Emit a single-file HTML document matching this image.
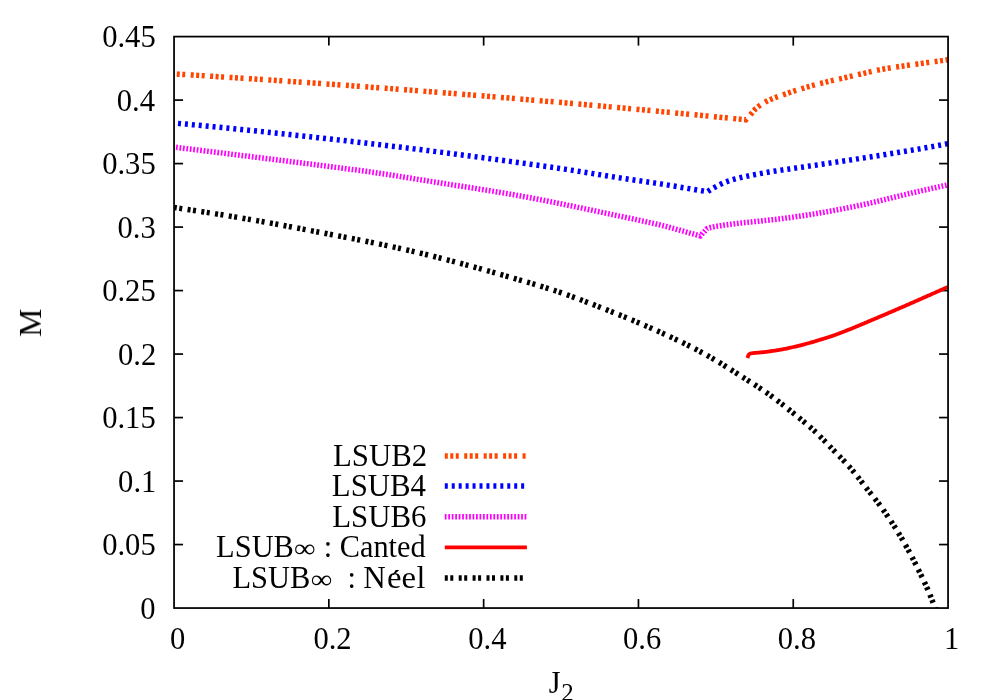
<!DOCTYPE html><html><head><meta charset="utf-8"><title>plot</title><style>html,body{margin:0;padding:0;background:#fff}body{width:1000px;height:700px;position:relative;overflow:hidden}.tx text,.tx tspan{font-family:"Liberation Serif",serif}</style></head><body><svg width="1000" height="700" viewBox="0 0 1000 700" style="position:absolute;left:0;top:0">
<rect width="1000" height="700" fill="#fff"/>
<defs><clipPath id="cp"><rect x="174.05" y="36.6" width="774.0" height="571.4499999999999"/></clipPath></defs>
<g stroke="#000" stroke-width="1.7" fill="none" stroke-linecap="butt">
<path d="M328.85,608.05 V599.05"/><path d="M328.85,36.6 V45.6"/>
<path d="M483.65,608.05 V599.05"/><path d="M483.65,36.6 V45.6"/>
<path d="M638.45,608.05 V599.05"/><path d="M638.45,36.6 V45.6"/>
<path d="M793.25,608.05 V599.05"/><path d="M793.25,36.6 V45.6"/>
<path d="M174.05,544.56 H183.05"/><path d="M948.05,544.56 H939.05"/>
<path d="M174.05,481.06 H183.05"/><path d="M948.05,481.06 H939.05"/>
<path d="M174.05,417.57 H183.05"/><path d="M948.05,417.57 H939.05"/>
<path d="M174.05,354.07 H183.05"/><path d="M948.05,354.07 H939.05"/>
<path d="M174.05,290.58 H183.05"/><path d="M948.05,290.58 H939.05"/>
<path d="M174.05,227.08 H183.05"/><path d="M948.05,227.08 H939.05"/>
<path d="M174.05,163.59 H183.05"/><path d="M948.05,163.59 H939.05"/>
<path d="M174.05,100.09 H183.05"/><path d="M948.05,100.09 H939.05"/>
</g>
<g fill="none" clip-path="url(#cp)" stroke-linejoin="miter">
<path d="M174.00,73.90 L178.00,74.14 L182.00,74.39 L186.00,74.63 L190.00,74.88 L194.00,75.13 L198.00,75.38 L202.00,75.63 L206.00,75.88 L210.00,76.13 L214.00,76.38 L218.00,76.64 L222.00,76.89 L226.00,77.15 L230.00,77.41 L234.00,77.67 L238.00,77.92 L242.00,78.19 L246.00,78.45 L250.00,78.71 L254.00,78.97 L258.00,79.24 L262.00,79.51 L266.00,79.77 L270.00,80.04 L274.00,80.31 L278.00,80.58 L282.00,80.85 L286.00,81.13 L290.00,81.40 L294.00,81.68 L298.00,81.95 L302.00,82.23 L306.00,82.51 L310.00,82.79 L314.00,83.07 L318.00,83.35 L322.00,83.63 L326.00,83.92 L330.00,84.20 L334.00,84.49 L338.00,84.77 L342.00,85.06 L346.00,85.35 L350.00,85.64 L354.00,85.93 L358.00,86.23 L362.00,86.52 L366.00,86.82 L370.00,87.11 L374.00,87.41 L378.00,87.71 L382.00,88.01 L386.00,88.31 L390.00,88.61 L394.00,88.91 L398.00,89.21 L402.00,89.52 L406.00,89.82 L410.00,90.13 L414.00,90.44 L418.00,90.75 L422.00,91.06 L426.00,91.37 L430.00,91.68 L434.00,91.99 L438.00,92.31 L442.00,92.62 L446.00,92.94 L450.00,93.26 L454.00,93.58 L458.00,93.90 L462.00,94.22 L466.00,94.54 L470.00,94.86 L474.00,95.19 L478.00,95.51 L482.00,95.84 L486.00,96.17 L490.00,96.50 L494.00,96.83 L498.00,97.16 L502.00,97.49 L506.00,97.82 L510.00,98.16 L514.00,98.49 L518.00,98.83 L522.00,99.17 L526.00,99.50 L530.00,99.84 L534.00,100.18 L538.00,100.53 L542.00,100.87 L546.00,101.21 L550.00,101.56 L554.00,101.90 L558.00,102.25 L562.00,102.60 L566.00,102.95 L570.00,103.30 L574.00,103.65 L578.00,104.00 L582.00,104.36 L586.00,104.71 L590.00,105.07 L594.00,105.43 L598.00,105.79 L602.00,106.14 L606.00,106.50 L610.00,106.87 L614.00,107.23 L618.00,107.59 L622.00,107.96 L626.00,108.32 L630.00,108.69 L634.00,109.06 L638.00,109.43 L642.00,109.80 L646.00,110.17 L650.00,110.54 L654.00,110.92 L658.00,111.29 L662.00,111.67 L666.00,112.04 L670.00,112.42 L674.00,112.80 L678.00,113.18 L682.00,113.56 L686.00,113.94 L690.00,114.33 L694.00,114.71 L698.00,115.10 L702.00,115.48 L706.00,115.87 L710.00,116.26 L714.00,116.65 L718.00,117.04 L722.00,117.43 L726.00,117.83 L730.00,118.22 L734.00,118.62 L738.00,119.01 L742.00,119.41 L745.80,119.80 L747.80,117.59 L749.80,115.36 L751.80,113.11 L753.80,110.71 L755.80,108.58 L757.80,106.93 L759.80,105.44 L761.80,104.09 L763.80,102.86 L765.80,101.74 L767.80,100.70 L769.80,99.76 L771.80,98.92 L773.80,98.13 L775.80,97.37 L777.80,96.64 L779.80,95.94 L781.80,95.26 L783.80,94.57 L785.80,93.87 L787.80,93.16 L789.80,92.45 L791.80,91.76 L793.80,91.09 L795.80,90.46 L797.80,89.86 L799.80,89.27 L801.80,88.68 L803.80,88.08 L805.80,87.48 L807.80,86.87 L809.80,86.28 L811.80,85.69 L813.80,85.13 L815.80,84.59 L817.80,84.07 L819.80,83.55 L821.80,83.05 L823.80,82.55 L825.80,82.07 L827.80,81.59 L829.80,81.11 L831.80,80.65 L833.80,80.19 L835.80,79.74 L837.80,79.30 L839.80,78.85 L841.80,78.39 L843.80,77.92 L845.80,77.46 L847.80,76.99 L849.80,76.53 L851.80,76.07 L853.80,75.62 L855.80,75.17 L857.80,74.72 L859.80,74.27 L861.80,73.81 L863.80,73.34 L865.80,72.87 L867.80,72.39 L869.80,71.92 L871.80,71.45 L873.80,71.00 L875.80,70.55 L877.80,70.13 L879.80,69.72 L881.80,69.34 L883.80,68.98 L885.80,68.63 L887.80,68.30 L889.80,67.97 L891.80,67.66 L893.80,67.36 L895.80,67.06 L897.80,66.77 L899.80,66.48 L901.80,66.19 L903.80,65.91 L905.80,65.62 L907.80,65.33 L909.80,65.04 L911.80,64.75 L913.80,64.47 L915.80,64.19 L917.80,63.91 L919.80,63.64 L921.80,63.36 L923.80,63.09 L925.80,62.82 L927.80,62.54 L929.80,62.27 L931.80,62.00 L933.80,61.73 L935.80,61.45 L937.80,61.18 L939.80,60.91 L941.80,60.64 L943.80,60.37 L945.80,60.10 L947.80,59.83 L948.00,59.80" stroke="#ff4500" stroke-width="5.5" stroke-dasharray="3.0 2.48 3.0 2.48 3.0 5.48" stroke-dashoffset="2.7"/>
<path d="M174.00,123.00 L178.00,123.37 L182.00,123.74 L186.00,124.11 L190.00,124.49 L194.00,124.87 L198.00,125.25 L202.00,125.63 L206.00,126.01 L210.00,126.40 L214.00,126.79 L218.00,127.18 L222.00,127.57 L226.00,127.97 L230.00,128.37 L234.00,128.77 L238.00,129.17 L242.00,129.58 L246.00,129.98 L250.00,130.39 L254.00,130.80 L258.00,131.21 L262.00,131.63 L266.00,132.05 L270.00,132.46 L274.00,132.89 L278.00,133.31 L282.00,133.73 L286.00,134.16 L290.00,134.59 L294.00,135.02 L298.00,135.45 L302.00,135.89 L306.00,136.32 L310.00,136.76 L314.00,137.20 L318.00,137.65 L322.00,138.09 L326.00,138.54 L330.00,138.98 L334.00,139.43 L338.00,139.89 L342.00,140.34 L346.00,140.79 L350.00,141.25 L354.00,141.71 L358.00,142.17 L362.00,142.63 L366.00,143.10 L370.00,143.56 L374.00,144.03 L378.00,144.50 L382.00,144.98 L386.00,145.45 L390.00,145.93 L394.00,146.41 L398.00,146.90 L402.00,147.38 L406.00,147.87 L410.00,148.36 L414.00,148.86 L418.00,149.35 L422.00,149.85 L426.00,150.35 L430.00,150.86 L434.00,151.36 L438.00,151.87 L442.00,152.38 L446.00,152.89 L450.00,153.40 L454.00,153.92 L458.00,154.44 L462.00,154.96 L466.00,155.49 L470.00,156.01 L474.00,156.54 L478.00,157.07 L482.00,157.60 L486.00,158.14 L490.00,158.68 L494.00,159.21 L498.00,159.76 L502.00,160.30 L506.00,160.85 L510.00,161.40 L514.00,161.95 L518.00,162.50 L522.00,163.05 L526.00,163.61 L530.00,164.17 L534.00,164.73 L538.00,165.30 L542.00,165.86 L546.00,166.43 L550.00,167.00 L554.00,167.58 L558.00,168.16 L562.00,168.76 L566.00,169.37 L570.00,169.98 L574.00,170.60 L578.00,171.23 L582.00,171.86 L586.00,172.49 L590.00,173.13 L594.00,173.77 L598.00,174.40 L602.00,175.04 L606.00,175.68 L610.00,176.31 L614.00,176.94 L618.00,177.56 L622.00,178.18 L626.00,178.80 L630.00,179.40 L634.00,179.99 L638.00,180.57 L642.00,181.15 L646.00,181.72 L650.00,182.30 L654.00,182.89 L658.00,183.49 L662.00,184.11 L666.00,184.76 L670.00,185.41 L674.00,186.08 L678.00,186.75 L682.00,187.43 L686.00,188.12 L690.00,188.79 L694.00,189.47 L698.00,190.13 L702.00,190.79 L706.00,191.45 L707.50,191.70 L709.50,190.39 L711.50,189.14 L713.50,187.95 L715.50,186.84 L717.50,185.79 L719.50,184.80 L721.50,183.86 L723.50,182.95 L725.50,182.09 L727.50,181.31 L729.50,180.63 L731.50,180.02 L733.50,179.45 L735.50,178.90 L737.50,178.39 L739.50,177.89 L741.50,177.42 L743.50,176.97 L745.50,176.52 L747.50,176.09 L749.50,175.67 L751.50,175.26 L753.50,174.86 L755.50,174.46 L757.50,174.08 L759.50,173.70 L761.50,173.33 L763.50,172.97 L765.50,172.62 L767.50,172.28 L769.50,171.95 L771.50,171.63 L773.50,171.31 L775.50,171.00 L777.50,170.70 L779.50,170.39 L781.50,170.10 L783.50,169.80 L785.50,169.51 L787.50,169.22 L789.50,168.94 L791.50,168.65 L793.50,168.37 L795.50,168.09 L797.50,167.80 L799.50,167.52 L801.50,167.24 L803.50,166.95 L805.50,166.66 L807.50,166.37 L809.50,166.07 L811.50,165.78 L813.50,165.48 L815.50,165.18 L817.50,164.88 L819.50,164.59 L821.50,164.29 L823.50,163.99 L825.50,163.69 L827.50,163.40 L829.50,163.10 L831.50,162.80 L833.50,162.50 L835.50,162.20 L837.50,161.90 L839.50,161.60 L841.50,161.30 L843.50,161.00 L845.50,160.70 L847.50,160.40 L849.50,160.10 L851.50,159.80 L853.50,159.49 L855.50,159.19 L857.50,158.88 L859.50,158.58 L861.50,158.27 L863.50,157.96 L865.50,157.65 L867.50,157.35 L869.50,157.04 L871.50,156.73 L873.50,156.41 L875.50,156.10 L877.50,155.79 L879.50,155.47 L881.50,155.16 L883.50,154.84 L885.50,154.52 L887.50,154.20 L889.50,153.88 L891.50,153.56 L893.50,153.23 L895.50,152.91 L897.50,152.58 L899.50,152.26 L901.50,151.93 L903.50,151.59 L905.50,151.26 L907.50,150.92 L909.50,150.59 L911.50,150.24 L913.50,149.90 L915.50,149.56 L917.50,149.21 L919.50,148.86 L921.50,148.51 L923.50,148.16 L925.50,147.81 L927.50,147.45 L929.50,147.09 L931.50,146.73 L933.50,146.37 L935.50,146.01 L937.50,145.65 L939.50,145.28 L941.50,144.91 L943.50,144.54 L945.50,144.17 L947.50,143.79 L948.00,143.70" stroke="#0000ff" stroke-width="5.5" stroke-dasharray="3.0 3.94" stroke-dashoffset="2.92"/>
<path d="M174.00,147.10 L178.00,147.59 L182.00,148.08 L186.00,148.57 L190.00,149.06 L194.00,149.55 L198.00,150.05 L202.00,150.54 L206.00,151.03 L210.00,151.53 L214.00,152.02 L218.00,152.52 L222.00,153.01 L226.00,153.51 L230.00,154.01 L234.00,154.50 L238.00,155.00 L242.00,155.50 L246.00,156.00 L250.00,156.50 L254.00,157.00 L258.00,157.50 L262.00,158.00 L266.00,158.50 L270.00,159.00 L274.00,159.50 L278.00,160.00 L282.00,160.50 L286.00,161.01 L290.00,161.51 L294.00,162.01 L298.00,162.52 L302.00,163.02 L306.00,163.53 L310.00,164.03 L314.00,164.54 L318.00,165.05 L322.00,165.57 L326.00,166.08 L330.00,166.60 L334.00,167.12 L338.00,167.63 L342.00,168.15 L346.00,168.66 L350.00,169.19 L354.00,169.71 L358.00,170.24 L362.00,170.78 L366.00,171.34 L370.00,171.90 L374.00,172.48 L378.00,173.07 L382.00,173.66 L386.00,174.27 L390.00,174.89 L394.00,175.51 L398.00,176.14 L402.00,176.78 L406.00,177.42 L410.00,178.07 L414.00,178.71 L418.00,179.36 L422.00,180.01 L426.00,180.65 L430.00,181.30 L434.00,181.94 L438.00,182.58 L442.00,183.22 L446.00,183.85 L450.00,184.47 L454.00,185.10 L458.00,185.72 L462.00,186.34 L466.00,186.96 L470.00,187.58 L474.00,188.21 L478.00,188.84 L482.00,189.47 L486.00,190.11 L490.00,190.75 L494.00,191.40 L498.00,192.06 L502.00,192.73 L506.00,193.41 L510.00,194.10 L514.00,194.80 L518.00,195.52 L522.00,196.25 L526.00,196.99 L530.00,197.74 L534.00,198.50 L538.00,199.26 L542.00,200.04 L546.00,200.82 L550.00,201.60 L554.00,202.39 L558.00,203.20 L562.00,204.01 L566.00,204.84 L570.00,205.67 L574.00,206.50 L578.00,207.34 L582.00,208.17 L586.00,209.01 L590.00,209.85 L594.00,210.69 L598.00,211.53 L602.00,212.38 L606.00,213.23 L610.00,214.07 L614.00,214.92 L618.00,215.78 L622.00,216.62 L626.00,217.47 L630.00,218.31 L634.00,219.15 L638.00,220.00 L642.00,220.85 L646.00,221.72 L650.00,222.60 L654.00,223.49 L658.00,224.42 L662.00,225.40 L666.00,226.43 L670.00,227.51 L674.00,228.61 L678.00,229.72 L682.00,230.84 L686.00,231.96 L690.00,233.08 L694.00,234.22 L698.00,235.36 L700.20,236.00 L703.60,232.30 L706.90,228.80 L708.90,227.93 L710.90,227.35 L712.90,226.92 L714.90,226.57 L716.90,226.26 L718.90,225.96 L720.90,225.66 L722.90,225.36 L724.90,225.07 L726.90,224.79 L728.90,224.51 L730.90,224.24 L732.90,223.99 L734.90,223.74 L736.90,223.50 L738.90,223.27 L740.90,223.04 L742.90,222.82 L744.90,222.60 L746.90,222.40 L748.90,222.20 L750.90,222.01 L752.90,221.81 L754.90,221.61 L756.90,221.41 L758.90,221.20 L760.90,220.98 L762.90,220.76 L764.90,220.55 L766.90,220.32 L768.90,220.10 L770.90,219.87 L772.90,219.65 L774.90,219.42 L776.90,219.18 L778.90,218.94 L780.90,218.69 L782.90,218.43 L784.90,218.18 L786.90,217.91 L788.90,217.65 L790.90,217.38 L792.90,217.11 L794.90,216.83 L796.90,216.55 L798.90,216.27 L800.90,215.98 L802.90,215.69 L804.90,215.39 L806.90,215.08 L808.90,214.77 L810.90,214.46 L812.90,214.14 L814.90,213.81 L816.90,213.48 L818.90,213.14 L820.90,212.80 L822.90,212.46 L824.90,212.11 L826.90,211.75 L828.90,211.39 L830.90,211.03 L832.90,210.66 L834.90,210.29 L836.90,209.91 L838.90,209.53 L840.90,209.15 L842.90,208.76 L844.90,208.37 L846.90,207.97 L848.90,207.57 L850.90,207.17 L852.90,206.76 L854.90,206.36 L856.90,205.94 L858.90,205.53 L860.90,205.11 L862.90,204.68 L864.90,204.25 L866.90,203.80 L868.90,203.35 L870.90,202.89 L872.90,202.42 L874.90,201.95 L876.90,201.47 L878.90,200.99 L880.90,200.50 L882.90,200.01 L884.90,199.52 L886.90,199.02 L888.90,198.53 L890.90,198.03 L892.90,197.54 L894.90,197.04 L896.90,196.55 L898.90,196.06 L900.90,195.57 L902.90,195.08 L904.90,194.60 L906.90,194.13 L908.90,193.66 L910.90,193.19 L912.90,192.73 L914.90,192.27 L916.90,191.81 L918.90,191.35 L920.90,190.89 L922.90,190.44 L924.90,189.98 L926.90,189.53 L928.90,189.07 L930.90,188.62 L932.90,188.17 L934.90,187.72 L936.90,187.27 L938.90,186.82 L940.90,186.38 L942.90,185.93 L944.90,185.49 L946.90,185.04 L948.00,184.80" stroke="#ff00ff" stroke-width="5.5" stroke-dasharray="1.75 1.72" stroke-dashoffset="1.44"/>
<path d="M747.40,358.00 L748.40,355.17 L749.40,353.95 L750.40,353.49 L751.40,353.29 L752.40,353.17 L753.40,353.05 L754.40,352.95 L755.40,352.87 L756.40,352.79 L757.40,352.72 L758.40,352.64 L759.40,352.56 L760.40,352.46 L761.40,352.36 L762.40,352.25 L763.40,352.13 L764.40,352.02 L765.40,351.89 L766.40,351.77 L767.40,351.64 L768.40,351.51 L769.40,351.38 L770.40,351.25 L771.40,351.11 L772.40,350.97 L773.40,350.83 L774.40,350.69 L775.40,350.54 L776.40,350.39 L777.40,350.23 L778.40,350.07 L779.40,349.90 L780.40,349.73 L781.40,349.55 L782.40,349.37 L783.40,349.18 L784.40,348.98 L785.40,348.78 L786.40,348.57 L787.40,348.36 L788.40,348.15 L789.40,347.93 L790.40,347.71 L791.40,347.49 L792.40,347.26 L793.40,347.02 L794.40,346.78 L795.40,346.54 L796.40,346.30 L797.40,346.05 L798.40,345.80 L799.40,345.55 L800.40,345.30 L801.40,345.05 L802.40,344.80 L803.40,344.55 L804.40,344.29 L805.40,344.03 L806.40,343.77 L807.40,343.51 L808.40,343.24 L809.40,342.97 L810.40,342.69 L811.40,342.40 L812.40,342.11 L813.40,341.82 L814.40,341.51 L815.40,341.21 L816.40,340.91 L817.40,340.60 L818.40,340.29 L819.40,339.98 L820.40,339.68 L821.40,339.38 L822.40,339.07 L823.40,338.77 L824.40,338.47 L825.40,338.17 L826.40,337.86 L827.40,337.54 L828.40,337.23 L829.40,336.90 L830.40,336.57 L831.40,336.22 L832.40,335.88 L833.40,335.53 L834.40,335.17 L835.40,334.81 L836.40,334.44 L837.40,334.08 L838.40,333.70 L839.40,333.33 L840.40,332.95 L841.40,332.57 L842.40,332.18 L843.40,331.80 L844.40,331.41 L845.40,331.02 L846.40,330.63 L847.40,330.24 L848.40,329.84 L849.40,329.45 L850.40,329.05 L851.40,328.65 L852.40,328.25 L853.40,327.84 L854.40,327.43 L855.40,327.02 L856.40,326.61 L857.40,326.19 L858.40,325.77 L859.40,325.35 L860.40,324.93 L861.40,324.51 L862.40,324.09 L863.40,323.67 L864.40,323.24 L865.40,322.82 L866.40,322.39 L867.40,321.96 L868.40,321.54 L869.40,321.11 L870.40,320.68 L871.40,320.26 L872.40,319.83 L873.40,319.40 L874.40,318.98 L875.40,318.55 L876.40,318.13 L877.40,317.71 L878.40,317.28 L879.40,316.86 L880.40,316.43 L881.40,316.01 L882.40,315.58 L883.40,315.16 L884.40,314.73 L885.40,314.31 L886.40,313.88 L887.40,313.45 L888.40,313.02 L889.40,312.59 L890.40,312.17 L891.40,311.74 L892.40,311.31 L893.40,310.88 L894.40,310.45 L895.40,310.02 L896.40,309.59 L897.40,309.16 L898.40,308.72 L899.40,308.29 L900.40,307.86 L901.40,307.43 L902.40,306.99 L903.40,306.56 L904.40,306.13 L905.40,305.69 L906.40,305.26 L907.40,304.82 L908.40,304.39 L909.40,303.95 L910.40,303.51 L911.40,303.07 L912.40,302.64 L913.40,302.20 L914.40,301.76 L915.40,301.32 L916.40,300.88 L917.40,300.44 L918.40,300.00 L919.40,299.56 L920.40,299.12 L921.40,298.68 L922.40,298.24 L923.40,297.80 L924.40,297.36 L925.40,296.92 L926.40,296.47 L927.40,296.03 L928.40,295.59 L929.40,295.15 L930.40,294.71 L931.40,294.27 L932.40,293.82 L933.40,293.38 L934.40,292.94 L935.40,292.50 L936.40,292.05 L937.40,291.61 L938.40,291.17 L939.40,290.72 L940.40,290.28 L941.40,289.84 L942.40,289.39 L943.40,288.95 L944.40,288.50 L945.40,288.06 L946.40,287.61 L947.40,287.17 L948.00,286.90" stroke="#ff0000" stroke-width="3.8"/>
<path d="M174.00,207.50 L176.00,207.79 L178.00,208.08 L180.00,208.37 L182.00,208.66 L184.00,208.96 L186.00,209.25 L188.00,209.55 L190.00,209.85 L192.00,210.15 L194.00,210.45 L196.00,210.75 L198.00,211.06 L200.00,211.36 L202.00,211.67 L204.00,211.98 L206.00,212.29 L208.00,212.60 L210.00,212.91 L212.00,213.23 L214.00,213.54 L216.00,213.86 L218.00,214.18 L220.00,214.50 L222.00,214.82 L224.00,215.15 L226.00,215.47 L228.00,215.80 L230.00,216.13 L232.00,216.46 L234.00,216.79 L236.00,217.12 L238.00,217.45 L240.00,217.79 L242.00,218.13 L244.00,218.47 L246.00,218.81 L248.00,219.15 L250.00,219.49 L252.00,219.84 L254.00,220.18 L256.00,220.53 L258.00,220.88 L260.00,221.23 L262.00,221.58 L264.00,221.93 L266.00,222.29 L268.00,222.64 L270.00,223.00 L272.00,223.36 L274.00,223.72 L276.00,224.08 L278.00,224.45 L280.00,224.81 L282.00,225.18 L284.00,225.56 L286.00,225.93 L288.00,226.30 L290.00,226.68 L292.00,227.06 L294.00,227.43 L296.00,227.81 L298.00,228.19 L300.00,228.57 L302.00,228.96 L304.00,229.34 L306.00,229.72 L308.00,230.10 L310.00,230.49 L312.00,230.87 L314.00,231.25 L316.00,231.64 L318.00,232.02 L320.00,232.40 L322.00,232.78 L324.00,233.16 L326.00,233.54 L328.00,233.92 L330.00,234.30 L332.00,234.68 L334.00,235.06 L336.00,235.44 L338.00,235.83 L340.00,236.21 L342.00,236.59 L344.00,236.97 L346.00,237.36 L348.00,237.74 L350.00,238.13 L352.00,238.52 L354.00,238.91 L356.00,239.30 L358.00,239.70 L360.00,240.09 L362.00,240.49 L364.00,240.89 L366.00,241.29 L368.00,241.70 L370.00,242.11 L372.00,242.52 L374.00,242.93 L376.00,243.34 L378.00,243.75 L380.00,244.17 L382.00,244.58 L384.00,245.00 L386.00,245.42 L388.00,245.85 L390.00,246.27 L392.00,246.70 L394.00,247.13 L396.00,247.57 L398.00,248.00 L400.00,248.45 L402.00,248.89 L404.00,249.34 L406.00,249.79 L408.00,250.24 L410.00,250.70 L412.00,251.16 L414.00,251.63 L416.00,252.10 L418.00,252.57 L420.00,253.05 L422.00,253.53 L424.00,254.02 L426.00,254.50 L428.00,255.00 L430.00,255.49 L432.00,255.99 L434.00,256.49 L436.00,256.99 L438.00,257.50 L440.00,258.00 L442.00,258.51 L444.00,259.03 L446.00,259.54 L448.00,260.06 L450.00,260.58 L452.00,261.10 L454.00,261.62 L456.00,262.15 L458.00,262.67 L460.00,263.20 L462.00,263.73 L464.00,264.26 L466.00,264.80 L468.00,265.34 L470.00,265.88 L472.00,266.43 L474.00,266.98 L476.00,267.53 L478.00,268.08 L480.00,268.64 L482.00,269.20 L484.00,269.76 L486.00,270.32 L488.00,270.89 L490.00,271.45 L492.00,272.02 L494.00,272.59 L496.00,273.16 L498.00,273.74 L500.00,274.31 L502.00,274.89 L504.00,275.46 L506.00,276.04 L508.00,276.62 L510.00,277.20 L512.00,277.78 L514.00,278.36 L516.00,278.93 L518.00,279.51 L520.00,280.08 L522.00,280.66 L524.00,281.24 L526.00,281.82 L528.00,282.40 L530.00,282.98 L532.00,283.57 L534.00,284.16 L536.00,284.75 L538.00,285.35 L540.00,285.95 L542.00,286.56 L544.00,287.17 L546.00,287.79 L548.00,288.42 L550.00,289.05 L552.00,289.69 L554.00,290.34 L556.00,291.00 L558.00,291.67 L560.00,292.34 L562.00,293.03 L564.00,293.72 L566.00,294.43 L568.00,295.14 L570.00,295.85 L572.00,296.58 L574.00,297.31 L576.00,298.05 L578.00,298.79 L580.00,299.54 L582.00,300.29 L584.00,301.05 L586.00,301.81 L588.00,302.57 L590.00,303.34 L592.00,304.11 L594.00,304.88 L596.00,305.65 L598.00,306.43 L600.00,307.20 L602.00,307.98 L604.00,308.75 L606.00,309.54 L608.00,310.32 L610.00,311.11 L612.00,311.90 L614.00,312.69 L616.00,313.49 L618.00,314.29 L620.00,315.09 L622.00,315.90 L624.00,316.71 L626.00,317.53 L628.00,318.35 L630.00,319.17 L632.00,320.00 L634.00,320.84 L636.00,321.67 L638.00,322.52 L640.00,323.37 L642.00,324.22 L644.00,325.08 L646.00,325.95 L648.00,326.82 L650.00,327.70 L652.00,328.58 L654.00,329.47 L656.00,330.36 L658.00,331.25 L660.00,332.14 L662.00,333.04 L664.00,333.95 L666.00,334.86 L668.00,335.77 L670.00,336.69 L672.00,337.62 L674.00,338.55 L676.00,339.49 L678.00,340.44 L680.00,341.40 L682.00,342.37 L684.00,343.34 L686.00,344.32 L688.00,345.32 L690.00,346.32 L692.00,347.33 L694.00,348.36 L696.00,349.39 L698.00,350.44 L700.00,351.50 L702.00,352.58 L704.00,353.67 L706.00,354.78 L708.00,355.91 L710.00,357.05 L712.00,358.21 L714.00,359.38 L716.00,360.57 L718.00,361.77 L720.00,362.97 L722.00,364.19 L724.00,365.42 L726.00,366.65 L728.00,367.89 L730.00,369.14 L732.00,370.40 L734.00,371.65 L736.00,372.91 L738.00,374.18 L740.00,375.44 L742.00,376.70 L744.00,377.97 L746.00,379.23 L748.00,380.49 L750.00,381.76 L752.00,383.03 L754.00,384.31 L756.00,385.60 L758.00,386.90 L760.00,388.22 L762.00,389.55 L764.00,390.91 L766.00,392.28 L768.00,393.68 L770.00,395.10 L772.00,396.55 L774.00,398.03 L776.00,399.54 L778.00,401.07 L780.00,402.61 L782.00,404.17 L784.00,405.75 L786.00,407.33 L788.00,408.92 L790.00,410.52 L792.00,412.12 L794.00,413.71 L796.00,415.31 L798.00,416.92 L800.00,418.54 L802.00,420.17 L804.00,421.83 L806.00,423.51 L808.00,425.22 L810.00,426.97 L812.00,428.76 L814.00,430.59 L816.00,432.48 L818.00,434.41 L820.00,436.39 L822.00,438.40 L824.00,440.44 L826.00,442.49 L828.00,444.56 L830.00,446.63 L832.00,448.69 L834.00,450.74 L836.00,452.77 L838.00,454.81 L840.00,456.85 L842.00,458.91 L844.00,460.99 L846.00,463.11 L848.00,465.27 L850.00,467.49 L852.00,469.77 L854.00,472.14 L856.00,474.62 L858.00,477.18 L860.00,479.78 L862.00,482.41 L864.00,485.02 L866.00,487.60 L868.00,490.12 L870.00,492.61 L872.00,495.10 L874.00,497.59 L876.00,500.13 L878.00,502.72 L880.00,505.40 L882.00,508.15 L884.00,510.96 L886.00,513.83 L888.00,516.75 L890.00,519.73 L892.00,522.76 L894.00,525.85 L896.00,529.00 L898.00,532.22 L900.00,535.52 L902.00,538.90 L904.00,542.35 L906.00,545.89 L908.00,549.50 L910.00,553.21 L912.00,557.02 L914.00,560.92 L916.00,564.90 L918.00,568.93 L920.00,573.00 L922.00,577.09 L924.00,581.23 L926.00,585.51 L928.00,590.00 L930.00,594.89 L932.00,599.99 L934.00,605.00 L936.00,610.00 L936.60,611.50" stroke="#000" stroke-width="5.5" stroke-dasharray="3.0 2.5 3.0 5.4" stroke-dashoffset="0.2"/>
</g>
<rect x="174.05" y="36.6" width="774.0" height="571.45" stroke="#000" stroke-width="1.75" fill="none"/>
<g fill="none">
<path d="M444.8,455.9 H526.9" stroke="#ff4500" stroke-width="5.5" stroke-dasharray="3.0 2.48 3.0 2.48 3.0 5.48"/>
<path d="M444.8,486.0 H526.9" stroke="#0000ff" stroke-width="5.5" stroke-dasharray="3.0 3.94"/>
<path d="M444.8,516.8 H526.9" stroke="#ff00ff" stroke-width="5.5" stroke-dasharray="1.75 1.72"/>
<path d="M444.8,547.3 H526.9" stroke="#ff0000" stroke-width="3.8"/>
<path d="M444.8,577.9 H526.9" stroke="#000" stroke-width="5.5" stroke-dasharray="3.0 2.5 3.0 5.4"/>
</g>
<g class="tx" font-size="30.3" fill="#000" opacity="0.999">
<text transform="translate(140.36,618.65) scale(1.01,1.07)" font-size="30.3" xml:space="preserve">0</text>
<text transform="translate(102.14,555.16) scale(1.01,1.07)" font-size="30.3" xml:space="preserve">0.05</text>
<text transform="translate(118.09,491.66) scale(1.01,1.07)" font-size="30.3" xml:space="preserve">0.1</text>
<text transform="translate(102.14,428.17) scale(1.01,1.07)" font-size="30.3" xml:space="preserve">0.15</text>
<text transform="translate(117.94,364.67) scale(1.01,1.07)" font-size="30.3" xml:space="preserve">0.2</text>
<text transform="translate(102.14,301.18) scale(1.01,1.07)" font-size="30.3" xml:space="preserve">0.25</text>
<text transform="translate(117.44,237.68) scale(1.01,1.07)" font-size="30.3" xml:space="preserve">0.3</text>
<text transform="translate(102.14,174.19) scale(1.01,1.07)" font-size="30.3" xml:space="preserve">0.35</text>
<text transform="translate(116.72,110.69) scale(1.01,1.07)" font-size="30.3" xml:space="preserve">0.4</text>
<text transform="translate(102.14,47.20) scale(1.01,1.07)" font-size="30.3" xml:space="preserve">0.45</text>
<text transform="translate(170.10,649.4) scale(1.01,1.07)">0</text>
<text transform="translate(313.42,649.4) scale(1.01,1.07)">0.2</text>
<text transform="translate(468.22,649.4) scale(1.01,1.07)">0.4</text>
<text transform="translate(623.02,649.4) scale(1.01,1.07)">0.6</text>
<text transform="translate(777.82,649.4) scale(1.01,1.07)">0.8</text>
<text transform="translate(944.10,649.4) scale(1.01,1.07)">1</text>
<text id="M" transform="translate(41,322.7) rotate(-90) scale(1.05,1.07)" text-anchor="middle">M</text>
<text transform="translate(548.76,692.70) scale(1.0,1.07)" font-size="30.3" xml:space="preserve">J</text>
<text transform="translate(561.30,700.95) scale(1.03,1.07)" font-size="24.240000000000002" xml:space="preserve">2</text>
<text transform="translate(333.03,465.60) scale(1.018,1.07)" font-size="30.3" xml:space="preserve">LSUB2</text>
<text transform="translate(331.81,495.70) scale(1.018,1.07)" font-size="30.3" xml:space="preserve">LSUB4</text>
<text transform="translate(332.25,526.50) scale(1.018,1.07)" font-size="30.3" xml:space="preserve">LSUB6</text>
<text transform="translate(216.12,557.00) scale(1.005,1.07)" font-size="30.3" xml:space="preserve">LSUB</text>
<text transform="translate(294.06,557.30) scale(1.0,0.87)" font-size="30.3" xml:space="preserve">∞</text>
<text transform="translate(323.86,557.00) scale(1.0,1.07)" font-size="30.3" xml:space="preserve">: Canted</text>
<text transform="translate(232.52,587.60) scale(1.005,1.07)" font-size="30.3" xml:space="preserve">LSUB</text>
<text transform="translate(310.66,587.90) scale(1.0,0.87)" font-size="30.3" xml:space="preserve">∞</text>
<text transform="translate(347.40,587.60) scale(1.0,1.07)" font-size="30.3" xml:space="preserve">:</text>
<text transform="translate(363.30,587.60) scale(1.03,1.07)" font-size="30.3" xml:space="preserve">N</text>
<text transform="translate(386.92,587.60) scale(1.08,1.07)" font-size="30.3" xml:space="preserve">e</text>
<text transform="translate(390.59,591.70) scale(1.0,1.07)" font-size="30.3" xml:space="preserve">´</text>
<text transform="translate(401.52,587.60) scale(1.08,1.07)" font-size="30.3" xml:space="preserve">e</text>
<text transform="translate(416.56,587.60) scale(1.05,1.07)" font-size="30.3" xml:space="preserve">l</text>
</g>
</svg></body></html>
